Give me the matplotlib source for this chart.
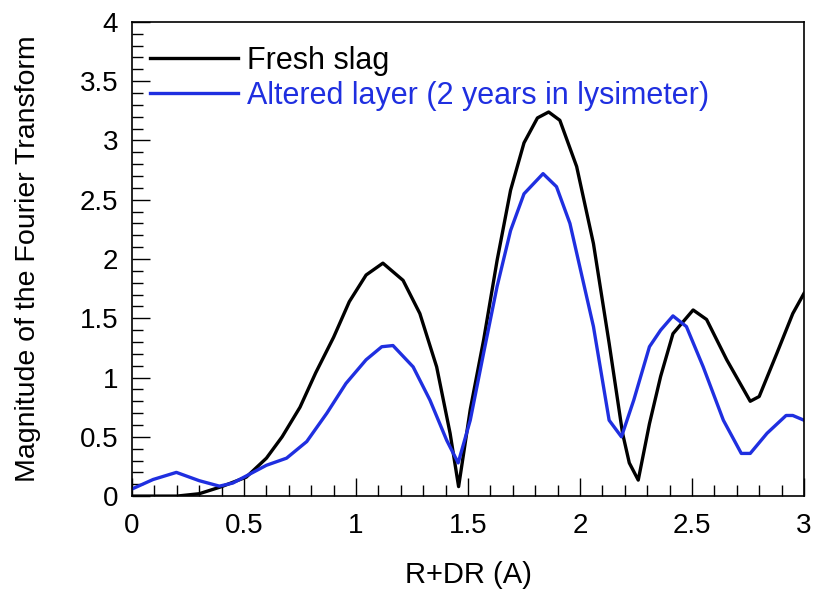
import numpy as np
import matplotlib.pyplot as plt
from matplotlib.ticker import MultipleLocator

plt.rcParams['font.family'] = ['Liberation Sans', 'DejaVu Sans']

# Fresh slag
r_fresh = [0, 0.1, 0.2, 0.3, 0.4, 0.51, 0.6, 0.67, 0.75, 0.82, 0.9, 0.97, 1.045,
           1.12, 1.21, 1.285, 1.36, 1.42, 1.458, 1.51, 1.57, 1.63, 1.69, 1.75,
           1.81, 1.86, 1.91, 1.985, 2.06, 2.13, 2.19, 2.22, 2.26, 2.31, 2.36,
           2.415, 2.505, 2.565, 2.655, 2.76, 2.80, 2.88, 2.95, 3.0]
ft_fresh = [0.0, 0.0, 0.0, 0.02, 0.08, 0.16, 0.32, 0.50, 0.75, 1.04, 1.34, 1.64, 1.865,
            1.965, 1.82, 1.54, 1.09, 0.53, 0.08, 0.73, 1.32, 1.99, 2.58, 2.98,
            3.19, 3.24, 3.17, 2.78, 2.13, 1.29, 0.53, 0.28, 0.135, 0.61, 1.01,
            1.37, 1.57, 1.49, 1.15, 0.80, 0.84, 1.21, 1.54, 1.71]

# Altered layer
r_alt = [0, 0.094, 0.198, 0.30, 0.39, 0.45, 0.51, 0.60, 0.69, 0.78, 0.87, 0.955,
         1.045, 1.115, 1.165, 1.255, 1.33, 1.405, 1.456, 1.51, 1.57, 1.63, 1.69,
         1.75, 1.835, 1.895, 1.955, 2.06, 2.13, 2.185, 2.24, 2.31, 2.36, 2.415,
         2.475, 2.55, 2.64, 2.72, 2.76, 2.835, 2.92, 2.95, 3.0]
ft_alt = [0.06, 0.14, 0.20, 0.13, 0.084, 0.11, 0.17, 0.26, 0.32, 0.46, 0.70, 0.95,
          1.15, 1.26, 1.27, 1.09, 0.81, 0.47, 0.28, 0.64, 1.21, 1.77, 2.24,
          2.55, 2.72, 2.61, 2.30, 1.43, 0.64, 0.50, 0.81, 1.26, 1.40, 1.52,
          1.43, 1.09, 0.64, 0.36, 0.36, 0.53, 0.68, 0.68, 0.64]

fig = plt.figure(figsize=(8.15, 5.92), dpi=100)
ax = fig.add_axes([0.162, 0.162, 0.8245, 0.801])

ax.plot(r_fresh, ft_fresh, color='black', lw=2.4, label='Fresh slag')
ax.plot(r_alt, ft_alt, color='#1f2fe0', lw=2.4, label='Altered layer (2 years in lysimeter)')

ax.set_xlim(0, 3)
ax.set_ylim(0, 4)
ax.xaxis.set_minor_locator(MultipleLocator(0.1))
ax.yaxis.set_minor_locator(MultipleLocator(0.1))
ax.set_xticks([0, 0.5, 1, 1.5, 2, 2.5, 3])
ax.set_xticklabels(['0', '0.5', '1', '1.5', '2', '2.5', '3'])
ax.set_yticks([0, 0.5, 1, 1.5, 2, 2.5, 3, 3.5, 4])
ax.set_yticklabels(['0', '0.5', '1', '1.5', '2', '2.5', '3', '3.5', '4'])
ax.tick_params(which='both', direction='in', top=False, right=False, width=1)
ax.tick_params(which='major', length=13, labelsize=20)
ax.tick_params(axis='x', which='major', pad=12)
ax.tick_params(axis='y', which='major', pad=10)
ax.tick_params(which='minor', length=8)
for s in ax.spines.values():
    s.set_linewidth(1.2)

ax.set_xlabel('R+DR (A)', fontsize=21, labelpad=16)
ax.set_ylabel('Magnitude of the Fourier Transform', fontsize=20.5, labelpad=28)

ax.legend(loc='upper left', frameon=False, fontsize=22, handlelength=2.9,
          handletextpad=0.3, labelspacing=0.15, borderaxespad=0.0,
          bbox_to_anchor=(0.008, 0.975), labelcolor='linecolor')

fig.savefig('out.png', dpi=100)
